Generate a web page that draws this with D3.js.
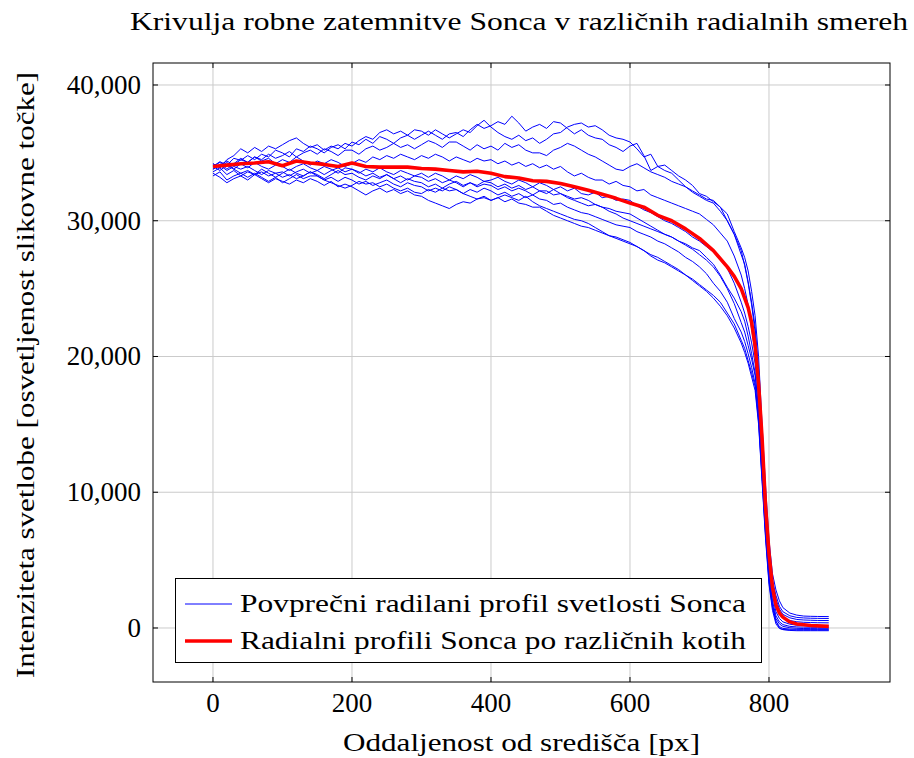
<!DOCTYPE html>
<html><head><meta charset="utf-8">
<script src="https://cdn.jsdelivr.net/npm/d3@7"></script>
<style>body{margin:0;background:#fff} text{font-family:"Liberation Serif",Tinos,"Times New Roman","DejaVu Serif",serif;fill:#000}</style>
</head><body><svg id="c" width="914" height="758"></svg>
<script>
const xs = [0,10,20,30,40,50,60,70,80,90,100,110,120,130,140,150,160,170,180,190,200,210,220,230,240,250,260,270,280,290,300,310,320,330,340,350,360,370,380,390,400,410,420,430,440,450,460,470,480,490,500,510,520,530,540,550,560,570,580,590,600,610,620,630,640,650,660,670,680,690,700,710,720,730,740,750,760,765,770,775,780,785,790,795,800,805,810,815,820,830,840,850,860,870,886];

const blue1 = [34000,34350,34100,34600,34450,34800,34500,34900,34700,35200,35000,34700,35300,35100,35500,35300,35000,35400,35600,35300,35800,35600,36000,35700,36200,36000,35700,36100,36300,36000,36300,36600,36300,36000,36400,36500,36200,36700,37100,36800,37000,37300,37100,37700,37200,36600,36900,37100,36800,37300,37200,36800,36400,36700,36300,36100,36000,35600,35400,35100,35500,35700,34800,33700,34000,34100,33700,33300,33000,32600,32000,31800,31400,31000,30500,29200,28000,27300,26300,24800,23000,20000,15000,10500,6500,4000,2800,2000,1500,1100,950,880,860,850,840];
const blue2 = [34200,33900,34500,34800,35300,35000,35400,35100,35500,35300,35600,35900,36100,35700,35400,35600,35200,35500,35300,35700,35500,35900,36200,36000,36500,36700,36400,36600,36300,36700,36600,36300,36700,36400,36100,36400,36700,36500,37000,37400,36900,36500,36200,36000,36300,35900,36100,35700,36000,36400,36500,36900,37100,37200,36900,37000,36700,36300,36100,36000,35800,35300,34700,34900,34000,33700,33500,33000,32500,32200,31900,31600,31500,31000,30000,29000,27500,26800,25500,24000,22200,19000,14000,9500,5800,3500,2400,1600,1200,900,780,740,720,710,700];
const blue3 = [34000,34300,33800,34200,34600,34300,34700,34500,34900,34600,34800,35100,34700,35000,35200,34900,35300,35100,34800,35200,35200,34900,35300,35500,35200,35400,35700,35400,35600,35300,35600,35900,35700,35400,35800,35800,35500,35200,35600,35300,35500,35200,35700,35400,35600,35200,35000,35000,34800,35200,35400,35700,35500,35200,34900,34700,34400,34100,33800,33700,34000,34200,33900,33600,33400,33200,32900,32700,32500,32100,31800,31500,31300,30700,30000,29000,27800,26700,25400,23800,21800,18500,13500,9000,5400,3200,2100,1400,1000,750,630,590,570,555,550];
const blue4 = [33800,34100,34400,34100,34500,34300,34700,34400,34600,34200,34500,34300,34700,34400,34100,34400,34200,34500,34300,34000,34200,34500,34300,34700,34500,34800,34600,34900,34700,34500,34800,34600,34900,34700,34400,34700,34500,34300,34600,34400,34500,34200,34400,34100,34300,34000,34200,33900,34100,33800,34000,33600,33300,33500,33200,33000,33000,32700,32900,32600,32500,32200,32300,31900,31700,31500,31300,31100,30900,30700,30500,30100,29700,29100,28500,27400,26000,25000,23800,22000,20300,17500,13000,8600,5000,2800,1700,1100,800,550,460,420,400,390,380];
const blue5 = [34000,33700,34100,33800,34200,33900,34300,34000,33800,34100,34000,33700,34000,34200,33900,33700,34000,33800,33500,33900,33800,33500,33800,33600,33900,33600,33400,33700,33500,33300,33500,33200,33500,33300,33000,33300,33100,33400,33200,32900,33000,33200,32900,32700,33000,32800,32500,32800,32600,32300,32500,32200,32400,32000,31900,32100,31700,31800,31500,31600,31500,31100,30800,30600,30300,30000,29800,29500,29200,28800,28500,28100,27700,27100,26500,25400,24000,23200,22200,21000,19500,17000,12500,8000,4500,2400,1200,700,450,280,210,180,165,155,150];
const blue6 = [33600,33900,33400,33700,33300,33600,33400,33800,33500,33200,33500,33800,33500,33300,33600,33400,33100,33400,33700,33400,33500,33200,33000,33300,33100,33400,33100,32800,33100,32900,32800,32500,32700,32400,32700,32900,32600,32800,32500,32700,32600,32300,32500,32200,32400,32200,31900,32200,32000,32300,32000,31700,31500,31300,31100,31200,31000,30700,30500,30200,30000,29800,29600,29400,29200,29000,28800,28500,28200,27900,27500,27100,26600,25900,25000,23900,22500,21800,20800,19800,18600,16200,12000,7500,4000,2000,900,450,250,120,80,65,55,50,50];
const blue7 = [34200,33900,34300,33800,33500,33700,33400,33600,33300,33500,33200,33400,33100,33300,33600,33300,33000,33200,32900,33200,33000,32700,32900,32600,32800,33000,32700,32500,32800,32600,32500,32200,32400,32200,32500,32300,32000,32300,32100,32400,32200,31900,32100,31800,32000,31700,31900,31600,31500,31200,31300,31000,30800,30600,30500,30300,30100,29900,29700,29600,29500,29200,29000,28800,28500,28300,28000,27700,27300,27000,26600,26100,25400,24800,24000,22800,21800,21100,20200,19200,18000,15500,11200,7000,3600,1700,700,300,120,20,-20,-40,-45,-50,-50];
const blue8 = [33500,33200,32800,33100,33300,33000,33400,33100,32800,33100,32900,32700,33000,32800,33100,32900,32600,32900,32500,32700,32500,32200,31900,32200,32400,32100,32300,32000,32200,31900,31800,31500,31300,31100,30900,31200,31400,31300,31600,31700,31500,31700,31400,31600,31300,31200,31000,31000,30700,30400,30200,30000,29800,29600,29500,29300,29100,28900,28800,28600,28400,28100,27800,27400,27100,26900,26600,26300,26000,25700,25300,24900,24500,24000,23200,22400,21200,20600,19700,18800,17800,15200,11000,6800,3400,1500,500,100,-30,-80,-95,-100,-100,-100,-100];
const blue9 = [33300,33600,33000,33300,33500,33200,33500,33200,32900,33200,32800,33100,33400,33100,33300,33300,33000,32800,32600,32400,32600,32900,32700,32800,32500,32700,32400,32200,32400,32100,32000,32300,32100,32400,32200,32300,32000,31800,31600,31800,31500,31700,31900,31700,31500,31800,31400,31100,30900,30700,30500,30300,30100,30000,29800,29500,29200,28900,28700,28500,28300,28100,27800,27500,27300,27000,26700,26400,26000,25600,25200,24800,24300,23700,23000,22100,21000,20300,19500,18500,17500,15000,10800,6600,3200,1300,300,-40,-110,-140,-150,-150,-150,-150,-150];
const blue10 = [33800,34100,33700,34000,33800,34000,33700,33400,33700,33500,33600,33300,33600,33800,33500,33700,33400,33700,33900,33600,33800,33600,33300,33500,33200,33400,33100,33300,33000,33300,33200,32900,33100,32800,33000,32800,32500,32800,32600,32900,32800,32500,32700,32400,32600,32300,32500,32200,32200,31900,32000,31800,31600,31700,31500,31200,31000,30900,30700,30600,30500,30200,29900,29600,29300,29000,28800,28500,28300,28000,27800,27300,26800,26000,25100,24300,23300,22600,21500,20200,18800,16000,11500,7200,3800,1700,500,0,-120,-180,-200,-200,-200,-200,-200];

const redX = [0,20,40,60,80,100,120,140,160,180,200,220,240,260,280,300,320,340,360,380,400,420,440,460,480,500,520,540,560,580,600,620,640,660,680,700,720,740,750,760,770,775,780,785,790,795,800,805,810,815,820,830,840,860,886];
const redY = [34000,34100,34200,34250,34350,34050,34400,34250,34150,34000,34250,34000,33950,33950,33950,33850,33800,33700,33600,33650,33500,33250,33150,32950,32900,32750,32500,32250,31950,31650,31300,31000,30400,30000,29400,28700,27800,26600,25900,25000,23600,22500,20800,18000,14000,9000,5500,3000,1700,1100,800,450,300,180,120];

const xTicks = [0,200,400,600,800];
const yTicks = [0,10000,20000,30000,40000];
const titleText = "Krivulja robne zatemnitve Sonca v različnih radialnih smereh";
const xLabel = "Oddaljenost od središča [px]";
const yLabel = "Intenziteta svetlobe [osvetljenost slikovne točke]";
const legendLabels = ["Povprečni radilani profil svetlosti Sonca","Radialni profili Sonca po različnih kotih"];

const blueSeries = [blue1,blue2,blue3,blue4,blue5,blue6,blue7,blue8,blue9,blue10];

const svg = d3.select("#c");
const L=153,R=890,T=63,B=682;
const x = d3.scaleLinear().domain([-86.3,974.1]).range([L,R]);
const y = d3.scaleLinear().domain([-3978,41620]).range([B,T]);

const g = svg.append("g");
g.selectAll(".gx").data(xTicks).enter().append("line")
 .attr("x1",d=>x(d)).attr("x2",d=>x(d)).attr("y1",T).attr("y2",B)
 .attr("stroke","#cbcbcb").attr("stroke-width",1);
g.selectAll(".gy").data(yTicks).enter().append("line")
 .attr("y1",d=>y(d)).attr("y2",d=>y(d)).attr("x1",L).attr("x2",R)
 .attr("stroke","#cbcbcb").attr("stroke-width",1);

const tl=5;
xTicks.forEach(d=>{
  g.append("line").attr("x1",x(d)).attr("x2",x(d)).attr("y1",B).attr("y2",B-tl).attr("stroke","#000");
  g.append("line").attr("x1",x(d)).attr("x2",x(d)).attr("y1",T).attr("y2",T+tl).attr("stroke","#000");
});
yTicks.forEach(d=>{
  g.append("line").attr("y1",y(d)).attr("y2",y(d)).attr("x1",L).attr("x2",L+tl).attr("stroke","#000");
  g.append("line").attr("y1",y(d)).attr("y2",y(d)).attr("x1",R).attr("x2",R-tl).attr("stroke","#000");
});

svg.append("clipPath").attr("id","clip").append("rect").attr("x",L).attr("y",T).attr("width",R-L).attr("height",B-T);
const plot = svg.append("g").attr("clip-path","url(#clip)");
const line = d3.line().x(d=>x(d[0])).y(d=>y(d[1]));
blueSeries.forEach(s=>{
  plot.append("path").datum(xs.map((v,i)=>[v,s[i]])).attr("d",line)
   .attr("fill","none").attr("stroke","#0000ff").attr("stroke-width",1).attr("stroke-linejoin","round");
});
plot.append("path").datum(redX.map((v,i)=>[v,redY[i]])).attr("d",line)
 .attr("fill","none").attr("stroke","#ff0000").attr("stroke-width",3.6).attr("stroke-linejoin","round");

svg.append("rect").attr("x",L).attr("y",T).attr("width",R-L).attr("height",B-T)
 .attr("fill","none").attr("stroke","#000").attr("stroke-width",1);

const fmt = d3.format(",");
svg.selectAll(".xl").data(xTicks).enter().append("text")
 .attr("x",d=>x(d)).attr("y",712).attr("text-anchor","middle").attr("font-size",27).text(d=>fmt(d));
svg.selectAll(".yl").data(yTicks).enter().append("text")
 .attr("x",141).attr("y",d=>y(d)+9).attr("text-anchor","end").attr("font-size",27).text(d=>fmt(d));

svg.append("text").attr("x",130).attr("y",30).attr("font-size",26)
 .attr("textLength",778).attr("lengthAdjust","spacingAndGlyphs").text(titleText);
svg.append("text").attr("x",343).attr("y",751).attr("font-size",26)
 .attr("textLength",357).attr("lengthAdjust","spacingAndGlyphs").text(xLabel);
svg.append("text").attr("transform","translate(34,678) rotate(-90)").attr("font-size",26)
 .attr("textLength",606).attr("lengthAdjust","spacingAndGlyphs").text(yLabel);

const lg = svg.append("g");
lg.append("rect").attr("x",175.5).attr("y",578.5).attr("width",586).attr("height",84)
 .attr("fill","#fff").attr("stroke","#000").attr("stroke-width",1);
const legColors=["#0000ff","#ff0000"], legW=[1,3.6], legY=[604,641];
legendLabels.forEach((t,i)=>{
  lg.append("line").attr("x1",185).attr("x2",232).attr("y1",legY[i]).attr("y2",legY[i])
   .attr("stroke",legColors[i]).attr("stroke-width",legW[i]);
  lg.append("text").attr("x",240).attr("y",legY[i]+8).attr("font-size",26)
   .attr("textLength",506).attr("lengthAdjust","spacingAndGlyphs").text(t);
});
</script></body></html>
